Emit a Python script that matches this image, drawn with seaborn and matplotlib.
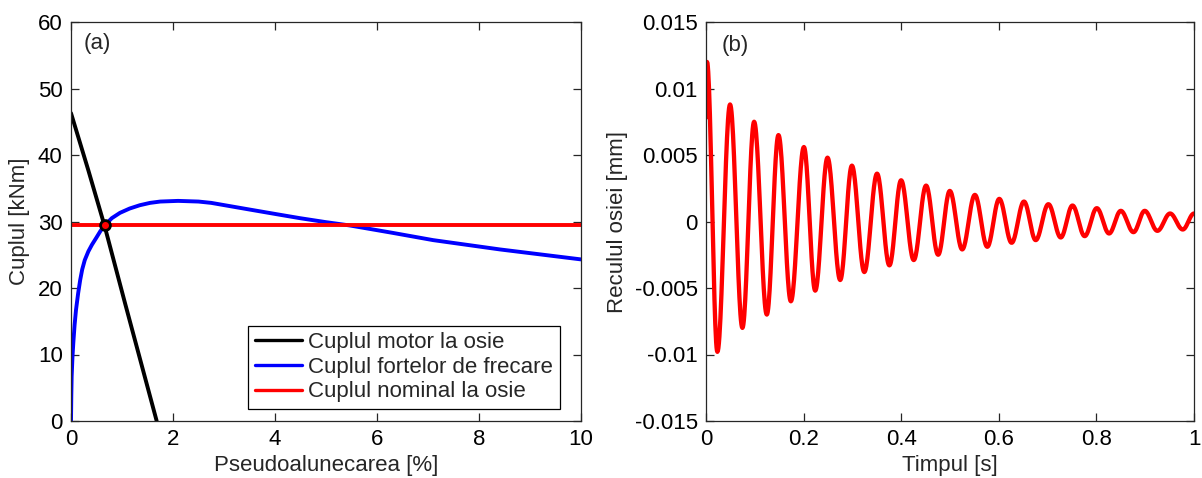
import numpy as np
import pandas as pd
import matplotlib
matplotlib.use("Agg")
import matplotlib.pyplot as plt
import seaborn as sns

# ---------------- data ----------------
# Panel (a)
motor_x = [0.0, 0.34, 0.66, 1.06, 1.68]
motor_y = [46.3, 37.7, 29.3, 17.7, 0.0]

friction_x = [0.0, 0.006, 0.013, 0.028, 0.045, 0.07, 0.098, 0.14, 0.18, 0.22,
              0.27, 0.34, 0.41, 0.5, 0.58, 0.67, 0.8, 0.96, 1.15, 1.35, 1.55,
              1.75, 2.1, 2.5, 2.75, 3.05, 3.5, 4.03, 4.49, 5.0, 5.47, 6.3,
              7.1, 8.41, 10.0]
friction_y = [0.0, 3.8, 6.7, 9.5, 11.7, 14.4, 16.7, 19.2, 21.2, 22.8,
              24.2, 25.5, 26.5, 27.6, 28.6, 29.5, 30.5, 31.3, 31.95, 32.45, 32.8,
              33.0, 33.1, 33.0, 32.8, 32.4, 31.8, 31.1, 30.5, 29.9, 29.4, 28.3,
              27.2, 25.8, 24.3]

nominal_x = [0.0, 10.0]
nominal_y = [29.5, 29.5]

op_x = [0.66]
op_y = [29.5]

legend_labels = ["Cuplul motor la osie", "Cuplul fortelor de frecare",
                 "Cuplul nominal la osie"]

a_xticks = [0, 2, 4, 6, 8, 10]
a_yticks = [0, 10, 20, 30, 40, 50, 60]

# Panel (b): successive extrema of the axle recoil signal
recoil_t = [0.000, 0.002, 0.0233, 0.0493, 0.0746, 0.0986, 0.1246, 0.1485,
            0.1739, 0.2006, 0.2238, 0.249, 0.275, 0.299, 0.3244, 0.3505,
            0.3758, 0.3998, 0.4257, 0.451, 0.4757, 0.4996, 0.525, 0.551,
            0.5764, 0.601, 0.6263, 0.6516, 0.6756, 0.7016, 0.727, 0.751,
            0.776, 0.8008, 0.826, 0.850, 0.876, 0.899, 0.925, 0.951, 0.977,
            1.000]
recoil_v = [0.0078, 0.0120, -0.0098, 0.0088, -0.0080, 0.0075, -0.0070, 0.0065,
            -0.0060, 0.0056, -0.0052, 0.0048, -0.0044, 0.0042, -0.0038, 0.0036,
            -0.0033, 0.0031, -0.0029, 0.0027, -0.0025, 0.0023, -0.0021, 0.0020,
            -0.0019, 0.0017, -0.0016, 0.0015, -0.0014, 0.0013, -0.0012, 0.0012,
            -0.0011, 0.0010, -0.0009, 0.0008, -0.0008, 0.0008, -0.0007, 0.0006,
            -0.0006, 0.0006]

b_xticks = [0, 0.2, 0.4, 0.6, 0.8, 1.0]
b_xticklabels = ["0", "0.2", "0.4", "0.6", "0.8", "1"]
b_yticks = [-0.015, -0.01, -0.005, 0, 0.005, 0.01, 0.015]
b_yticklabels = ["-0.015", "-0.01", "-0.005", "0", "0.005", "0.01", "0.015"]

# ---------------- style ----------------
sns.set_style("white")
plt.rcParams["font.family"] = ["Liberation Sans", "DejaVu Sans"]
FS = 16
SPINE = "#262626"

fig = plt.figure(figsize=(12.02, 4.78), dpi=100)
ax1 = fig.add_axes([71 / 1202, 1 - 421 / 478, 510 / 1202, 399 / 478])
ax2 = fig.add_axes([706 / 1202, 1 - 421 / 478, 488 / 1202, 399 / 478])

LW = 2.8

# ---- panel (a)
sns.lineplot(x=motor_x, y=motor_y, ax=ax1, color="black", linewidth=LW,
             label=legend_labels[0], sort=False, estimator=None)
sns.lineplot(x=friction_x, y=friction_y, ax=ax1, color="#0000ff", linewidth=LW,
             label=legend_labels[1], sort=False, estimator=None)
sns.lineplot(x=nominal_x, y=nominal_y, ax=ax1, color="#ff0000", linewidth=LW,
             label=legend_labels[2], sort=False, estimator=None)
sns.scatterplot(x=op_x, y=op_y, ax=ax1, s=50, color="#ff0000",
                edgecolor="black", linewidth=2.0, zorder=5, legend=False)

ax1.set_xlim(0, 10)
ax1.set_ylim(0, 60)
ax1.set_xticks(a_xticks)
ax1.set_yticks(a_yticks)
ax1.set_xlabel("Pseudoalunecarea [%]", fontsize=FS)
ax1.set_ylabel("Cuplul [kNm]", fontsize=FS)
ax1.text(0.024, 0.945, "(a)", transform=ax1.transAxes, fontsize=FS,
         ha="left", va="center")

leg = ax1.legend(loc="lower right", bbox_to_anchor=(0.9588, 0.030),
                 borderaxespad=0, fontsize=FS, frameon=True, fancybox=False,
                 framealpha=1, edgecolor="black", handlelength=2.1,
                 handletextpad=0.3, labelspacing=0.16, borderpad=0.3)
leg.get_frame().set_linewidth(0.9)
for h in leg.get_lines():
    h.set_linewidth(2.4)

# ---- panel (b): smooth half-cosine rendering between the read extrema
seg_t, seg_v = [], []
for i in range(len(recoil_t) - 1):
    s = np.linspace(0, 1, 25, endpoint=(i == len(recoil_t) - 2))
    seg_t.append(recoil_t[i] + (recoil_t[i + 1] - recoil_t[i]) * s)
    seg_v.append(recoil_v[i] + (recoil_v[i + 1] - recoil_v[i]) * (1 - np.cos(np.pi * s)) / 2)
df_b = pd.DataFrame({"t": np.concatenate(seg_t), "v": np.concatenate(seg_v)})
sns.lineplot(data=df_b, x="t", y="v", ax=ax2, color="#ff0000", linewidth=3.1,
             sort=False, estimator=None)

ax2.set_xlim(0, 1)
ax2.set_ylim(-0.015, 0.015)
ax2.set_xticks(b_xticks)
ax2.set_xticklabels(b_xticklabels)
ax2.set_yticks(b_yticks)
ax2.set_yticklabels(b_yticklabels)
ax2.set_xlabel("Timpul [s]", fontsize=FS)
ax2.set_ylabel("Reculul osiei [mm]", fontsize=FS)
ax2.text(0.033, 0.94, "(b)", transform=ax2.transAxes, fontsize=FS,
         ha="left", va="center")

for ax, ylab_x in ((ax1, (20 - 71) / 510), (ax2, (617 - 706) / 488)):
    for sp in ax.spines.values():
        sp.set_visible(True)
        sp.set_color(SPINE)
        sp.set_linewidth(0.9)
    ax.tick_params(direction="in", length=6, width=0.9, color=SPINE,
                   top=True, right=True, bottom=True, left=True,
                   labelsize=FS, pad=6, labelcolor="black")
    ax.yaxis.set_label_coords(ylab_x, 0.5)
    ax.yaxis.label.set_va("center")
    ax.xaxis.set_label_coords(0.5, (421 - 465) / 399)
    ax.xaxis.label.set_va("center")
    ax.set_facecolor("white")

fig.savefig("out.png", dpi=100, facecolor="white")
